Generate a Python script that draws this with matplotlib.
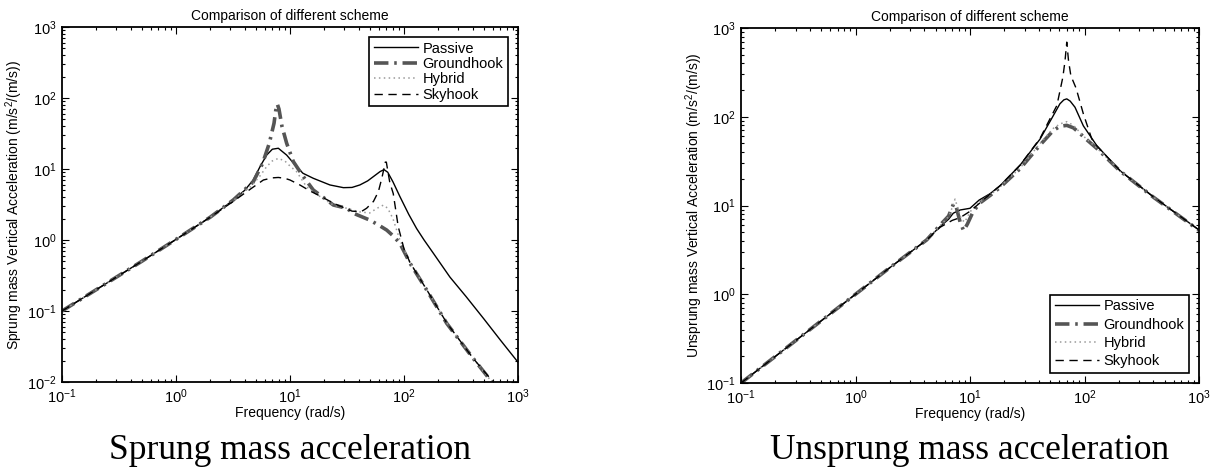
import matplotlib
matplotlib.use("Agg")
import matplotlib.pyplot as plt
from matplotlib.ticker import LogLocator, NullFormatter

plt.rcParams['font.family'] = ['Liberation Sans', 'DejaVu Sans']
plt.rcParams['mathtext.fontset'] = 'custom'
plt.rcParams['mathtext.rm'] = 'Liberation Sans'
plt.rcParams['mathtext.it'] = 'Liberation Sans:italic'

# ---------------- Left panel: sprung mass acceleration ----------------
sp_passive_f = [0.1, 0.2, 0.5, 1, 2, 3, 4, 4.76, 5.46, 6.24, 7.0, 7.9, 9.35, 11.4, 13, 16, 22.4, 29.4,
                35, 41, 48, 53.8, 61.7, 66.8, 72, 80, 92, 110, 129, 150, 181, 253, 350, 500, 700, 1000]
sp_passive_a = [0.1, 0.2, 0.5, 1.02, 2.1, 3.4, 5.0, 7.0, 10.8, 15.7, 19.0, 19.6, 15.7, 10.8, 8.7, 7.4, 5.96, 5.46,
                5.5, 5.96, 6.8, 7.8, 9.2, 9.8, 9.0, 6.6, 4.1, 2.3, 1.45, 1.0, 0.65, 0.30, 0.16, 0.078, 0.039, 0.019]

sp_ground_f = [0.1, 0.2, 0.5, 1, 2, 3.18, 4.76, 5.75, 6.58, 7.24, 7.5, 7.74, 8.0, 8.5, 9.35, 10.7, 13.1, 16, 21, 24,
               31.4, 36, 50, 60, 70.5, 80, 92, 113, 158, 237, 400, 590, 1000]
sp_ground_a = [0.1, 0.2, 0.5, 1.02, 2.1, 3.66, 6.6, 12.0, 23.0, 44.0, 67.0, 82.0, 70.0, 40.0, 23.0, 12.7, 7.8, 5.06, 3.66, 3.11,
               2.8, 2.38, 1.91, 1.62, 1.38, 1.15, 0.90, 0.47, 0.198, 0.067, 0.022, 0.010, 0.0035]

sp_hybrid_f = [0.1, 0.2, 0.5, 1, 2, 3.18, 4.6, 5.46, 6.24, 7.0, 7.9, 9.0, 10.0, 11.4, 14, 18.3, 24, 31.4, 40,
               50, 58, 66, 72, 80, 92, 113, 158, 237, 400, 590, 1000]
sp_hybrid_a = [0.1, 0.2, 0.5, 1.02, 2.1, 3.6, 5.8, 8.0, 10.8, 13.0, 14.1, 13.0, 11.0, 9.2, 5.6, 4.1, 3.11, 2.8, 2.5,
               2.4, 2.8, 3.1, 2.8, 2.0, 1.0, 0.48, 0.20, 0.068, 0.022, 0.010, 0.0035]

sp_sky_f = [0.1, 0.2, 0.5, 1, 2, 3.18, 4.6, 5.84, 7.0, 7.9, 9.0, 10.0, 12.2, 15, 18.3, 25, 35, 42, 47, 54,
            59.6, 64, 67, 68.5, 70, 72, 75, 80.5, 89, 100, 113, 158, 237, 400, 590, 1000]
sp_sky_a = [0.1, 0.2, 0.5, 1.02, 2.1, 3.5, 5.35, 7.0, 7.5, 7.6, 7.4, 7.0, 5.96, 4.9, 4.17, 3.2, 2.55, 2.5, 2.8, 3.5,
            4.8, 7.5, 10.5, 12.5, 12.5, 9.5, 6.5, 4.5, 1.54, 0.75, 0.48, 0.20, 0.068, 0.022, 0.0105, 0.0036]

# ---------------- Right panel: unsprung mass acceleration ----------------
us_passive_f = [0.1, 0.3, 1, 2, 4.18, 5.47, 6.5, 7.15, 8.2, 10, 12, 15, 18.3, 27.4, 40.9, 53.4, 61, 66, 70, 75,
                82.6, 97.7, 128, 204, 400, 1000]
us_passive_a = [0.1, 0.3, 1.0, 2.0, 4.09, 5.78, 7.0, 8.2, 8.9, 9.3, 11.5, 13.6, 16.7, 28.5, 56, 103, 140, 155, 159, 150,
                128, 79, 47.3, 24.7, 12.5, 5.3]

us_ground_f = [0.1, 0.3, 1, 2, 4.18, 5.47, 6.5, 7.2, 7.6, 8.2, 8.8, 9.5, 10.5, 12, 15, 18.3, 27.4, 40.9, 53.4, 61, 70,
               80, 90, 100, 128, 204, 400, 1000]
us_ground_a = [0.1, 0.3, 1.0, 2.0, 4.09, 6.0, 7.6, 10.5, 9.5, 6.5, 5.2, 6.2, 8.2, 10.5, 13.0, 16.0, 26.0, 48, 70, 78, 80,
               75, 66, 58, 44, 24.5, 12.4, 5.25]

us_hybrid_f = [0.1, 0.3, 1, 2, 4.18, 5.47, 6.5, 7.0, 7.4, 7.8, 8.4, 9.0, 10.0, 12, 15, 18.3, 27.4, 40.9, 53.4, 61, 70,
               80, 90, 100, 128, 204, 400, 1000]
us_hybrid_a = [0.1, 0.3, 1.0, 2.0, 4.09, 5.9, 7.5, 9.5, 11.8, 9.5, 7.0, 6.5, 8.5, 10.7, 13.2, 16.2, 26.5, 50, 74, 83, 88,
               80, 68, 59, 44.5, 24.6, 12.4, 5.27]

us_sky_f = [0.1, 0.3, 1, 2, 4.18, 5.5, 7.0, 8.2, 10, 12, 15, 18.3, 27.4, 40.9, 50, 57.4, 64.7, 67.5, 70, 72.5, 76,
            84.4, 97.7, 115.6, 128, 204, 400, 1000]
us_sky_a = [0.1, 0.3, 1.0, 2.0, 4.09, 5.7, 6.8, 7.3, 8.6, 10.5, 13.5, 16.7, 28.5, 57, 95, 134, 279, 420, 693, 430, 290,
            210, 108, 56.4, 47, 24.7, 12.5, 5.3]

legend_labels = ['Passive', 'Groundhook', 'Hybrid', 'Skyhook']
title_text = 'Comparison of different scheme'
xlabel_text = 'Frequency (rad/s)'
ylabels = ['Sprung mass Vertical Acceleration (m/s$^2$/(m/s))',
           'Unsprung mass Vertical Acceleration (m/s$^2$/(m/s))']
captions = ['Sprung mass acceleration', 'Unsprung mass acceleration']

W, H = 1210, 473
fig = plt.figure(figsize=(W / 100, H / 100), dpi=100)

ax1 = fig.add_axes([62 / W, (H - 382) / H, 456 / W, 355 / H])
ax2 = fig.add_axes([741 / W, (H - 383) / H, 458 / W, 355 / H])

styles = [
    dict(color='k', lw=1.0, ls='-'),
    dict(color='#555555', lw=2.6, dashes=(4, 1.6, 0.7, 1.6)),
    dict(color='#9a9a9a', lw=1.1, dashes=(1, 2.2)),
    dict(color='k', lw=1.0, dashes=(6, 4)),
]

left_series = [(sp_passive_f, sp_passive_a), (sp_ground_f, sp_ground_a),
               (sp_hybrid_f, sp_hybrid_a), (sp_sky_f, sp_sky_a)]
right_series = [(us_passive_f, us_passive_a), (us_ground_f, us_ground_a),
                (us_hybrid_f, us_hybrid_a), (us_sky_f, us_sky_a)]

for ax, series, ylim, ylab, legloc, lsp in [
        (ax1, left_series, (1e-2, 1e3), ylabels[0], 'upper right', 0.1),
        (ax2, right_series, (1e-1, 1e3), ylabels[1], 'lower right', 0.3)]:
    for (f, a), st, lab in zip(series, styles, legend_labels):
        ax.plot(f, a, label=lab, **st)
    ax.set_xscale('log')
    ax.set_yscale('log')
    ax.set_xlim(0.1, 1000)
    ax.set_ylim(*ylim)
    ax.xaxis.set_minor_locator(LogLocator(base=10, subs=range(2, 10), numticks=20))
    ax.yaxis.set_minor_locator(LogLocator(base=10, subs=range(2, 10), numticks=20))
    ax.xaxis.set_minor_formatter(NullFormatter())
    ax.yaxis.set_minor_formatter(NullFormatter())
    ax.tick_params(which='both', direction='in', top=True, right=True, labelsize=10.5, width=0.8)
    ax.tick_params(which='major', length=5, pad=4)
    ax.tick_params(which='minor', length=2.5)
    for sp in ax.spines.values():
        sp.set_linewidth(1.3)
    ax.set_title(title_text, fontsize=10, pad=5)
    ax.set_xlabel(xlabel_text, fontsize=10, labelpad=0)
    ax.set_ylabel(ylab, fontsize=10, labelpad=1)
    leg = ax.legend(loc=legloc, fontsize=10.5, frameon=True, fancybox=False, edgecolor='k',
                    framealpha=1, handlelength=3.0, handletextpad=0.35, labelspacing=lsp,
                    borderpad=0.3, borderaxespad=0.7)
    leg.get_frame().set_linewidth(1.2)

fig.text((62 + 518) / 2 / W, (H - 450) / H, captions[0], ha='center', va='center',
         fontsize=25.5, family='Liberation Serif')
fig.text((741 + 1199) / 2 / W, (H - 450) / H, captions[1], ha='center', va='center',
         fontsize=25.5, family='Liberation Serif')

fig.savefig('out.png', dpi=100)
